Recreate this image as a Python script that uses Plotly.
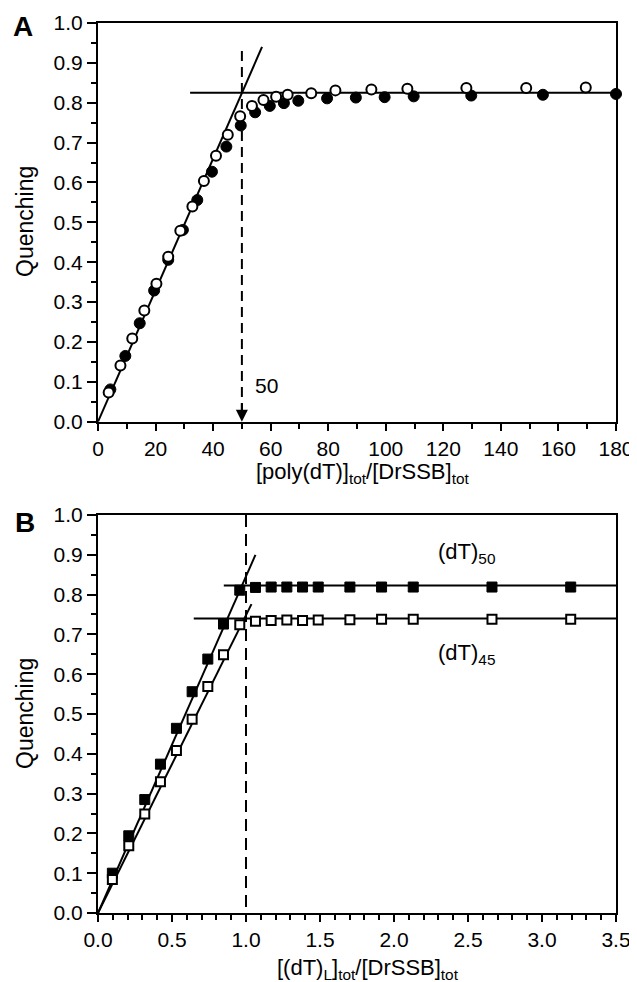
import plotly.graph_objects as go

# ---------------- Panel A data ----------------
a_filled_x = [4.3, 9.5, 14.5, 19.5, 24.4, 29.5, 34.5, 39.6, 44.6, 49.6, 54.6, 59.7, 64.6, 69.6,
              79.6, 89.6, 99.6, 109.7, 129.7, 154.6, 180.0]
a_filled_y = [0.081, 0.165, 0.247, 0.329, 0.406, 0.481, 0.556, 0.627, 0.690, 0.743, 0.776, 0.792,
              0.799, 0.805, 0.811, 0.813, 0.814, 0.816, 0.818, 0.820, 0.822]
a_open_x = [3.7, 7.8, 11.9, 16.1, 20.3, 24.4, 28.6, 32.8, 36.8, 41.0, 45.1, 49.4, 53.5, 57.5,
            61.9, 65.9, 74.1, 82.5, 95.0, 107.5, 128.0, 148.8, 169.5]
a_open_y = [0.073, 0.141, 0.209, 0.279, 0.346, 0.414, 0.479, 0.540, 0.604, 0.667, 0.720, 0.766,
            0.792, 0.807, 0.815, 0.820, 0.824, 0.831, 0.833, 0.835, 0.837, 0.837, 0.838]
a_fit_rise_x = [0, 57]
a_fit_rise_y = [0, 0.94]
a_fit_flat_x = [32, 180]
a_fit_flat_y = [0.825, 0.825]
a_break_x = 50
a_break_top = 0.93

# ---------------- Panel B data ----------------
b_x = [0.097, 0.208, 0.316, 0.422, 0.530, 0.636, 0.742, 0.848, 0.958, 1.064, 1.170, 1.276,
       1.382, 1.488, 1.702, 1.916, 2.130, 2.662, 3.194]
b_dt50_y = [0.100, 0.194, 0.285, 0.374, 0.464, 0.556, 0.638, 0.726, 0.811, 0.818, 0.819, 0.819,
            0.819, 0.819, 0.819, 0.819, 0.819, 0.819, 0.819]
b_dt45_y = [0.084, 0.169, 0.249, 0.330, 0.408, 0.487, 0.569, 0.649, 0.724, 0.733, 0.735, 0.736,
            0.735, 0.736, 0.737, 0.738, 0.738, 0.738, 0.738]
b_fit50_rise_x = [0, 1.064]
b_fit50_rise_y = [0, 0.900]
b_fit50_flat_x = [0.85, 3.5]
b_fit50_flat_y = [0.823, 0.823]
b_fit45_rise_x = [0, 1.037]
b_fit45_rise_y = [0, 0.776]
b_fit45_flat_x = [0.647, 3.5]
b_fit45_flat_y = [0.740, 0.740]
b_break_x = 1.0

FONT = "Liberation Sans, Arial, sans-serif"
BLACK = "black"

# page has an 8px body margin, so the figure is sized/offset to compensate
W, H = 629, 974
ML, MR, MT, MB = 90, 21, 15, 69
PW = W - ML - MR
PH = H - MT - MB


def px_x(p):  # page x (reference pixel) -> paper x
    return (p - 8 - ML) / PW


def px_y(p):  # page y (reference pixel) -> paper y
    return (H - MB - (p - 8)) / PH


fig = go.Figure()


def line(x, y, xa, ya, dash=None, width=2):
    fig.add_trace(go.Scatter(x=x, y=y, mode="lines", xaxis=xa, yaxis=ya,
                             line=dict(color=BLACK, width=width, dash=dash),
                             hoverinfo="skip", showlegend=False, cliponaxis=False))


# Panel A lines
line(a_fit_rise_x, a_fit_rise_y, "x", "y")
line(a_fit_flat_x, a_fit_flat_y, "x", "y")
line([a_break_x, a_break_x], [a_break_top, 0.03], "x", "y", dash="10px,6px")

fig.add_trace(go.Scatter(x=a_filled_x, y=a_filled_y, mode="markers", xaxis="x", yaxis="y",
                         marker=dict(symbol="circle", size=11, color=BLACK,
                                     line=dict(color=BLACK, width=1)),
                         showlegend=False, cliponaxis=False))
fig.add_trace(go.Scatter(x=a_open_x, y=a_open_y, mode="markers", xaxis="x", yaxis="y",
                         marker=dict(symbol="circle", size=10, color="white",
                                     line=dict(color=BLACK, width=2)),
                         showlegend=False, cliponaxis=False))

# Panel B lines
line(b_fit50_rise_x, b_fit50_rise_y, "x2", "y2")
line(b_fit50_flat_x, b_fit50_flat_y, "x2", "y2")
line(b_fit45_rise_x, b_fit45_rise_y, "x2", "y2")
line(b_fit45_flat_x, b_fit45_flat_y, "x2", "y2")
line([b_break_x, b_break_x], [1.0, 0.0], "x2", "y2", dash="12px,7px")

fig.add_trace(go.Scatter(x=b_x, y=b_dt50_y, mode="markers", xaxis="x2", yaxis="y2",
                         marker=dict(symbol="square", size=10, color=BLACK,
                                     line=dict(color=BLACK, width=1)),
                         showlegend=False, cliponaxis=False))
fig.add_trace(go.Scatter(x=b_x, y=b_dt45_y, mode="markers", xaxis="x2", yaxis="y2",
                         marker=dict(symbol="square", size=9, color="white",
                                     line=dict(color=BLACK, width=2)),
                         showlegend=False, cliponaxis=False))

axis_common = dict(showline=True, linecolor=BLACK, linewidth=2, mirror=True,
                   ticks="outside", tickcolor=BLACK, tickwidth=2, showgrid=False,
                   zeroline=False, automargin=False,
                   tickfont=dict(family=FONT, size=21, color=BLACK))

fig.update_layout(
    width=W, height=H,
    margin=dict(l=ML, r=MR, t=MT, b=MB),
    plot_bgcolor="white", paper_bgcolor="white",
    font=dict(family=FONT, color=BLACK),
    xaxis=dict(domain=[0, 1], anchor="y", range=[0, 180], dtick=20, tick0=0, ticklen=7,
               minor=dict(dtick=10, ticklen=5, tickcolor=BLACK, tickwidth=2, ticks="outside"),
               **axis_common),
    yaxis=dict(domain=[0.552, 1], anchor="x", range=[0, 1], dtick=0.1, tick0=0,
               tickformat=".1f", ticklen=9,
               minor=dict(dtick=0.05, ticklen=5, tickcolor=BLACK, tickwidth=2, ticks="outside"),
               **axis_common),
    xaxis2=dict(domain=[0, 1], anchor="y2", range=[0, 3.5], dtick=0.5, tick0=0,
                tickformat=".1f", ticklen=7,
                minor=dict(dtick=0.1, ticklen=5, tickcolor=BLACK, tickwidth=2, ticks="outside"),
                **axis_common),
    yaxis2=dict(domain=[0, 0.4472], anchor="x2", range=[0, 1], dtick=0.1, tick0=0,
                tickformat=".1f", ticklen=9,
                minor=dict(dtick=0.05, ticklen=5, tickcolor=BLACK, tickwidth=2, ticks="outside"),
                **axis_common),
)

TF = dict(family=FONT, size=22, color=BLACK)
YF = dict(family=FONT, size=23, color=BLACK)

annotations = [
    # panel letters
    dict(text="<b>A</b>", xref="paper", yref="paper", x=px_x(23), y=px_y(27),
         xanchor="center", yanchor="middle", showarrow=False,
         font=dict(family=FONT, size=28, color=BLACK)),
    dict(text="<b>B</b>", xref="paper", yref="paper", x=px_x(25), y=px_y(522),
         xanchor="center", yanchor="middle", showarrow=False,
         font=dict(family=FONT, size=28, color=BLACK)),
    # axis titles
    dict(text="[poly(dT)]<sub>tot</sub>/[DrSSB]<sub>tot</sub>", xref="paper", yref="paper",
         x=px_x(362), y=px_y(473), xanchor="center", yanchor="middle", showarrow=False,
         font=TF),
    dict(text="[(dT)<sub>L</sub>]<sub>tot</sub>/[DrSSB]<sub>tot</sub>", xref="paper",
         yref="paper", x=px_x(368), y=px_y(969), xanchor="center", yanchor="middle",
         showarrow=False, font=TF),
    dict(text="Quenching", xref="paper", yref="paper", x=px_x(25), y=px_y(222),
         xanchor="center", yanchor="middle", textangle=-90, showarrow=False, font=YF),
    dict(text="Quenching", xref="paper", yref="paper", x=px_x(25), y=px_y(714),
         xanchor="center", yanchor="middle", textangle=-90, showarrow=False, font=YF),
    # in-plot labels
    dict(text="50", xref="x", yref="y", x=58.5, y=0.092, showarrow=False,
         font=dict(family=FONT, size=21, color=BLACK)),
    dict(text="", xref="x", yref="y", x=a_break_x, y=0.0, ax=a_break_x, ay=0.05,
         axref="x", ayref="y", showarrow=True, arrowhead=2, arrowsize=1.2, arrowwidth=2,
         arrowcolor=BLACK),
    dict(text="(dT)<sub>50</sub>", xref="x2", yref="y2", x=2.49, y=0.905, showarrow=False,
         font=dict(family=FONT, size=22, color=BLACK)),
    dict(text="(dT)<sub>45</sub>", xref="x2", yref="y2", x=2.49, y=0.651, showarrow=False,
         font=dict(family=FONT, size=22, color=BLACK)),
]
fig.update_layout(annotations=annotations)

fig.write_html("out.html")
